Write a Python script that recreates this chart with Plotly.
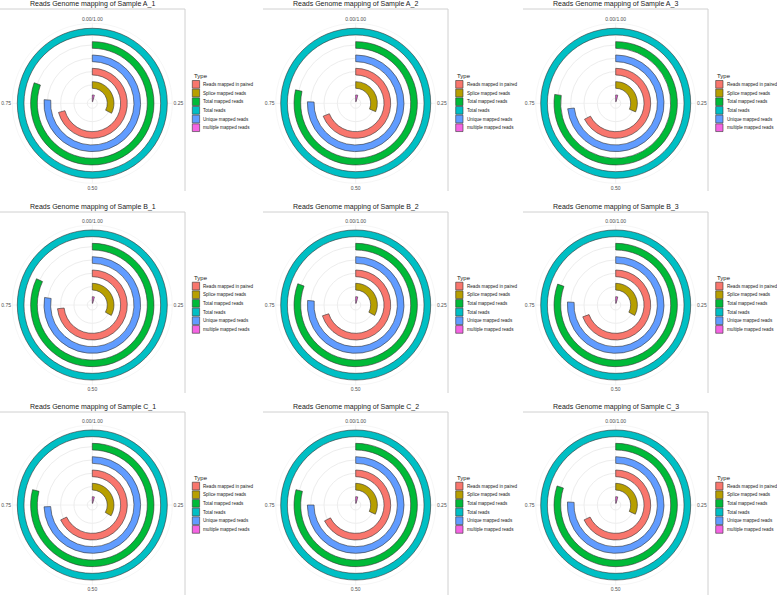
import plotly.graph_objects as go

W, H = 777, 595

types = [
    "Reads mapped in paired",
    "Splice mapped reads",
    "Total mapped reads",
    "Total reads",
    "Unique mapped reads",
    "multiple mapped reads",
]
colors = ["#F8766D", "#B79F00", "#00BA38", "#00BFC4", "#619CFF", "#F564E3"]

samples = ["A_1", "A_2", "A_3", "B_1", "B_2", "B_3", "C_1", "C_2", "C_3"]

# fraction of total reads, same order as `types`
A_1 = [0.708, 0.326, 0.804, 1.0, 0.762, 0.04]
A_2 = [0.690, 0.313, 0.785, 1.0, 0.755, 0.04]
A_3 = [0.675, 0.315, 0.773, 1.0, 0.732, 0.04]
B_1 = [0.733, 0.330, 0.820, 1.0, 0.775, 0.04]
B_2 = [0.700, 0.330, 0.806, 1.0, 0.765, 0.04]
B_3 = [0.695, 0.330, 0.805, 1.0, 0.760, 0.04]
C_1 = [0.680, 0.333, 0.790, 1.0, 0.744, 0.04]
C_2 = [0.675, 0.320, 0.790, 1.0, 0.750, 0.04]
C_3 = [0.680, 0.320, 0.800, 1.0, 0.760, 0.04]
values = dict(A_1=A_1, A_2=A_2, A_3=A_3, B_1=B_1, B_2=B_2, B_3=B_3,
              C_1=C_1, C_2=C_2, C_3=C_3)

tick_vals = [0, 90, 180, 270]
tick_text = ["0.00/1.00", "0.25", "0.50", "0.75"]

# layout (pixels)
col_cx = [92.3, 355.7, 615.7]
row_cy = [103.3, 305.0, 505.0]
box_x = [(0, 185), (263, 448), (523, 708)]
box_y = [(9, 191), (212, 393), (412, 596)]
R = 80
FONT = "Liberation Sans, Arial, sans-serif"


def px(x):
    return x / W


def py(y):
    return 1 - y / H


fig = go.Figure()
layout = {}
shapes = []
annotations = []

for i, s in enumerate(samples):
    row, col = divmod(i, 3)
    cx, cy = col_cx[col], row_cy[row]
    pid = "polar" if i == 0 else f"polar{i + 1}"
    vals = values[s]

    # rings ordered by value, smallest in the middle
    order = sorted(range(len(types)), key=lambda j: vals[j])
    for ring, j in enumerate(order, start=1):
        fig.add_trace(
            go.Barpolar(
                r=[0.5],
                base=[ring - 0.25],
                theta=[vals[j] * 180],
                width=[vals[j] * 360],
                marker=dict(color=colors[j], line=dict(color="#333333", width=0.6)),
                name=types[j],
                subplot=pid,
                showlegend=False,
            )
        )

    layout[pid] = dict(
        domain=dict(x=[px(cx - R), px(cx + R)], y=[py(cy + R), py(cy - R)]),
        bgcolor="white",
        barmode="overlay",
        radialaxis=dict(
            range=[0.625, 6.625],
            tickvals=[1, 2, 3, 4, 5, 6],
            showticklabels=False,
            ticks="",
            showline=False,
            gridcolor="#ededed",
            gridwidth=0.5,
        ),
        angularaxis=dict(
            rotation=90,
            direction="clockwise",
            tickvals=tick_vals,
            ticktext=tick_text,
            ticks="",
            tickfont=dict(size=5, color="#4d4d4d", family=FONT),
            showline=True,
            linecolor="#ededed",
            linewidth=0.5,
            gridcolor="#f2f2f2",
            gridwidth=0.5,
        ),
    )

    # panel frame (top + right edge)
    x0, x1 = box_x[col]
    y0, y1 = box_y[row]
    shapes.append(dict(type="line", xref="paper", yref="paper",
                       x0=px(x0), x1=px(x1), y0=py(y0), y1=py(y0),
                       line=dict(color="#d0d0d0", width=1)))
    shapes.append(dict(type="line", xref="paper", yref="paper",
                       x0=px(x1), x1=px(x1), y0=py(y0), y1=py(y1),
                       line=dict(color="#d0d0d0", width=1)))

    annotations.append(dict(
        text=f"Reads Genome mapping of Sample {s}",
        x=px((x0 + x1) / 2), y=py(y0 - 5), xref="paper", yref="paper",
        xanchor="center", yanchor="middle", showarrow=False,
        font=dict(size=7, color="#1a1a1a", family=FONT),
    ))

    # legend
    lx = cx + 100
    annotations.append(dict(
        text="Type", x=px(lx - 0.5), y=py(cy - 27.3), xref="paper", yref="paper",
        xanchor="left", yanchor="middle", showarrow=False,
        font=dict(size=6, color="#1a1a1a", family=FONT),
    ))
    for k, (t, c) in enumerate(zip(types, colors)):
        top = cy - 23.3 + k * 8.67
        shapes.append(dict(type="rect", xref="paper", yref="paper",
                           x0=px(lx), x1=px(lx + 7.3), y0=py(top + 8.2), y1=py(top + 0.5),
                           fillcolor=c, line=dict(color="#333333", width=0.6)))
        annotations.append(dict(
            text=t, x=px(lx + 9.0), y=py(top + 4.35), xref="paper", yref="paper",
            xanchor="left", yanchor="middle", showarrow=False,
            font=dict(size=4.6, color="#1a1a1a", family=FONT),
        ))

fig.update_layout(
    **layout,
    width=W,
    height=H,
    margin=dict(l=0, r=0, t=0, b=0),
    paper_bgcolor="white",
    plot_bgcolor="white",
    template="none",
    shapes=shapes,
    annotations=annotations,
    font=dict(family=FONT),
)

fig.write_html(
    "out.html",
    config={"displayModeBar": False},
    post_script="document.body.style.margin='0';",
)
